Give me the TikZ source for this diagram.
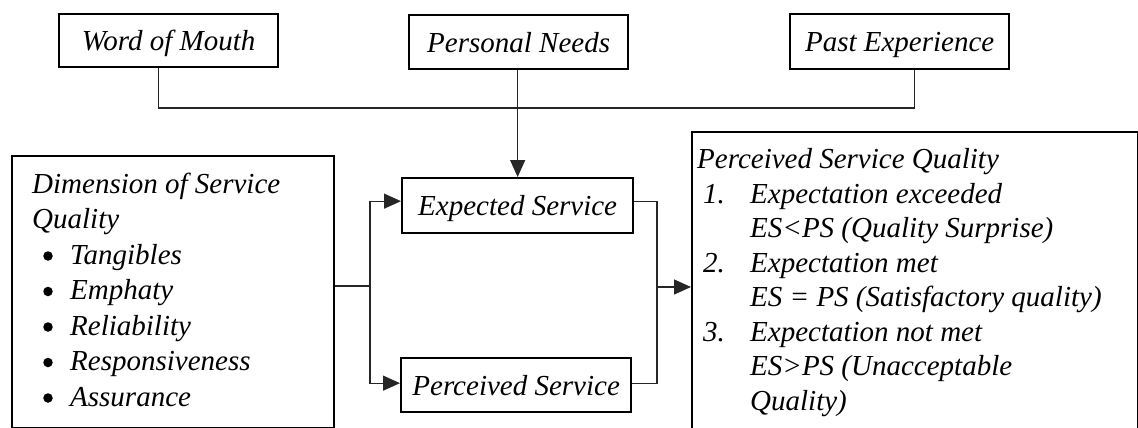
\documentclass[tikz,border=0pt]{standalone}
\usepackage{fontspec}
\setmainfont{Liberation Serif}
\usetikzlibrary{arrows.meta}
\begin{document}
\begin{tikzpicture}[x=1pt,y=-1pt,
  every node/.style={font=\fontsize{29}{35}\selectfont\itshape},
  framebox/.style={draw, line width=2.3pt, inner sep=0pt, anchor=north west},
  smallbox/.style={framebox, text height=25pt, text depth=5pt},
  txt/.style={anchor=base west, inner sep=0pt},
  bulletdot/.style={circle, fill=black, inner sep=0pt, minimum size=9.5pt},
  conn/.style={line width=1.3pt, draw=black!85},
  arr/.style={conn, -{Triangle[length=17pt,width=15pt]}}]
\useasboundingbox (0,0) rectangle (1138,428);
\clip (0,0) rectangle (1138,428);

% antecedents of expected service
\node[smallbox, minimum width=219pt, minimum height=53pt] (wom) at (58,13) {Word of Mouth};
\node[smallbox, minimum width=219pt, minimum height=54pt] (pn) at (408,14) {Personal Needs};
\node[smallbox, minimum width=219pt, minimum height=55pt] (pe) at (789,13) {Past Experience};

% expected and perceived service
\node[smallbox, minimum width=231pt, minimum height=55pt] (exp) at (401,177) {Expected Service};
\node[smallbox, minimum width=230pt, minimum height=54pt] (per) at (400,357) {Perceived Service};

% dimensions box
\node[framebox, minimum width=322pt, minimum height=272pt] (dim) at (11,155) {};
\node[txt] (d0) at (32,193) {Dimension of Service};
\node[txt] (d1) at (32,228.5) {Quality};
\foreach \y/\w [count=\i] in {264/Tangibles,299.5/Emphaty,335/Reliability,370.5/Responsiveness,406/Assurance}{
  \node[bulletdot] (b\i) at (48,\y-8) {};
  \node[txt] (t\i) at (70,\y) {\w};
}

% perceived service quality box
\node[framebox, minimum width=446pt, minimum height=320pt] (psq) at (691,131) {};
\node[txt] (q0) at (697,168.5) {Perceived Service Quality};
\node[txt] (n1) at (703,203) {1.};
\node[txt] (q1) at (750,203) {Expectation exceeded};
\node[txt] (q2) at (750,237.5) {ES<PS (Quality Surprise)};
\node[txt] (n2) at (703,272) {2.};
\node[txt] (q3) at (750,272) {Expectation met};
\node[txt] (q4) at (750,306.5) {ES = PS (Satisfactory quality)};
\node[txt] (n3) at (703,341) {3.};
\node[txt] (q5) at (750,341) {Expectation not met};
\node[txt] (q6) at (750,375.5) {ES>PS (Unacceptable};
\node[txt] (q7) at (750,410) {Quality)};

% connectors
\coordinate (hub) at (516,108);
\coordinate (womfoot) at ([xshift=-10.5pt]wom.south);
\coordinate (pefoot) at ([xshift=14.5pt]pe.south);
\draw[conn] (womfoot) |- (pefoot |- hub) -- (pefoot);
\draw[arr] (pn.south -| exp.north) -- (exp.north);

\coordinate (split) at (370,286);
\draw[conn] (dim.east |- split) -- (split);
\draw[arr] (split) |- ([yshift=4.5pt]exp.west);
\draw[arr] (split) |- ([yshift=2pt]per.west);

\coordinate (join) at (657,287);
\draw[conn] ([yshift=4.5pt]exp.east) -| (join);
\draw[conn] ([yshift=2pt]per.east) -| (join);
\draw[arr] (join) -- (psq.west |- join);
\end{tikzpicture}
\end{document}
